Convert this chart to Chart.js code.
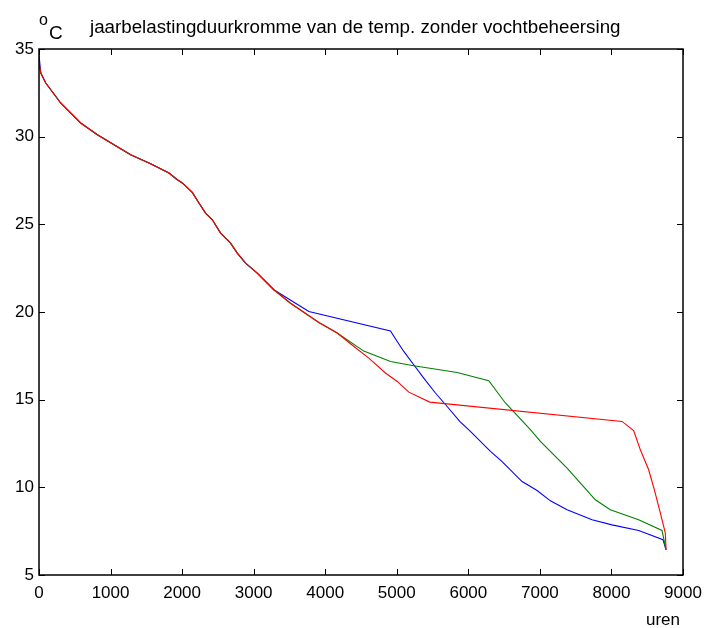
<!DOCTYPE html>
<html>
<head>
<meta charset="utf-8">
<script src="https://cdn.jsdelivr.net/npm/chart.js@4"></script>
<style>
    html, body { margin: 0; padding: 0; background: #ffffff; }
    #wrap { position: relative; width: 704px; height: 628px; }
</style>
</head>
<body>
<div id="wrap"><canvas id="chart" width="704" height="628"></canvas></div>
<script>
// shared upper part of the duration curves (hours, degC)
const commonHours = [25, 94, 303, 582, 816, 1281, 1560, 1816, 1933, 2003, 2142, 2235, 2328, 2422, 2538, 2677, 2771, 2887, 3050, 3282];
const commonTemp = [33.63, 33.06, 31.92, 30.78, 30.11, 28.97, 28.46, 27.93, 27.54, 27.36, 26.82, 26.22, 25.64, 25.26, 24.5, 23.93, 23.36, 22.79, 22.22, 21.27];

const blueHours = [3771, 4912, 5006, 5098, 5237, 5377, 5540, 5704, 5880, 6029, 6309, 6472, 6751, 6961, 7147, 7380, 7729, 8008, 8380, 8721, 8763];
const blueTemp = [20.03, 18.92, 18.32, 17.75, 16.99, 16.23, 15.38, 14.61, 13.76, 13.19, 12.05, 11.47, 10.33, 9.82, 9.23, 8.72, 8.15, 7.86, 7.54, 7.01, 6.44];

const greenHours = [3515, 3911, 4168, 4539, 4912, 5237, 5844, 6285, 6518, 6867, 7007, 7380, 7775, 7984, 8380, 8707, 8763];
const greenTemp = [20.5, 19.4, 18.8, 17.77, 17.18, 16.93, 16.55, 16.08, 14.81, 13.29, 12.62, 11.1, 9.29, 8.72, 8.15, 7.54, 6.44];

const redHours = [3515, 3911, 4168, 4353, 4609, 4842, 5006, 5168, 5461, 8148, 8310, 8404, 8520, 8600, 8684, 8753, 8763];
const redTemp = [20.5, 19.4, 18.8, 18.19, 17.37, 16.52, 16.04, 15.43, 14.86, 13.76, 13.24, 12.14, 11.0, 9.86, 8.53, 7.39, 6.44];

const xTicks = [0, 1000, 2000, 3000, 4000, 5000, 6000, 7000, 8000, 9000];
const yTicks = [5, 10, 15, 20, 25, 30, 35];

const titleText = "jaarbelastingduurkromme van de temp. zonder vochtbeheersing";
const font = "'Liberation Sans', Arial, sans-serif";

function toPoints(startTemp, hours, temps) {
    const pts = [{ x: 0, y: startTemp }];
    commonHours.forEach((h, i) => pts.push({ x: h, y: commonTemp[i] }));
    hours.forEach((h, i) => pts.push({ x: h, y: temps[i] }));
    return pts;
}

const frame = {
    id: "frame",
    afterDatasetsDraw(chart) {
        const { ctx, chartArea: a, scales } = chart;
        ctx.save();
        ctx.strokeStyle = "#000000";
        ctx.lineWidth = 1;
        ctx.beginPath();
        xTicks.forEach((v) => {
            const px = Math.round(scales.x.getPixelForValue(v)) + 0.5;
            ctx.moveTo(px, a.bottom);
            ctx.lineTo(px, a.bottom - 6);
            ctx.moveTo(px, a.top);
            ctx.lineTo(px, a.top + 6);
        });
        yTicks.forEach((v) => {
            const py = Math.round(scales.y.getPixelForValue(v)) + 0.5;
            ctx.moveTo(a.left, py);
            ctx.lineTo(a.left + 6, py);
            ctx.moveTo(a.right, py);
            ctx.lineTo(a.right - 6, py);
        });
        ctx.stroke();
        ctx.lineWidth = 1.5;
        ctx.strokeRect(a.left, a.top, a.right - a.left, a.bottom - a.top);

        ctx.fillStyle = "#000000";
        ctx.textBaseline = "alphabetic";
        ctx.textAlign = "left";
        ctx.font = "18.75px " + font;
        ctx.fillText(titleText, 90, 33);
        ctx.font = "16px " + font;
        ctx.fillText("o", 39, 25);
        ctx.font = "19px " + font;
        ctx.fillText("C", 49, 39);
        ctx.font = "17px " + font;
        ctx.fillText("uren", 646, 625);
        ctx.restore();
    },
};

const tickFont = { family: font, size: 17 };

new Chart(document.getElementById("chart"), {
    type: "line",
    data: {
        datasets: [
            { label: "rood", data: toPoints(34.2, redHours, redTemp), borderColor: "#ff0000", order: 1 },
            { label: "groen", data: toPoints(34.2, greenHours, greenTemp), borderColor: "#008000", order: 2 },
            { label: "blauw", data: toPoints(34.67, blueHours, blueTemp), borderColor: "#0000ff", order: 3 },
        ].map((d) => Object.assign(d, { borderWidth: 1.1, pointRadius: 0, tension: 0, fill: false })),
    },
    options: {
        responsive: false,
        animation: false,
        layout: { padding: { top: 49, right: 21, left: 0, bottom: 0 } },
        plugins: { legend: { display: false }, tooltip: { enabled: false } },
        scales: {
            x: {
                type: "linear",
                min: 0,
                max: 9000,
                afterFit(scale) {
                    scale.height = 53;
                    scale.paddingLeft = 0;
                    scale.paddingRight = 0;
                },
                afterBuildTicks(scale) { scale.ticks = xTicks.map((v) => ({ value: v })); },
                grid: { display: false, drawTicks: false, tickLength: 0 },
                border: { display: false },
                ticks: {
                    color: "#000000", font: tickFont, padding: 8, maxRotation: 0,
                    callback: (v) => String(v),
                },
            },
            y: {
                type: "linear",
                min: 5,
                max: 35,
                afterFit(scale) {
                    scale.width = 39;
                    scale.paddingTop = 0;
                    scale.paddingBottom = 0;
                },
                afterBuildTicks(scale) { scale.ticks = yTicks.map((v) => ({ value: v })); },
                grid: { display: false, drawTicks: false, tickLength: 0 },
                border: { display: false },
                ticks: { color: "#000000", font: tickFont, padding: 5, callback: (v) => String(v) },
            },
        },
    },
    plugins: [frame],
});
</script>
</body>
</html>
